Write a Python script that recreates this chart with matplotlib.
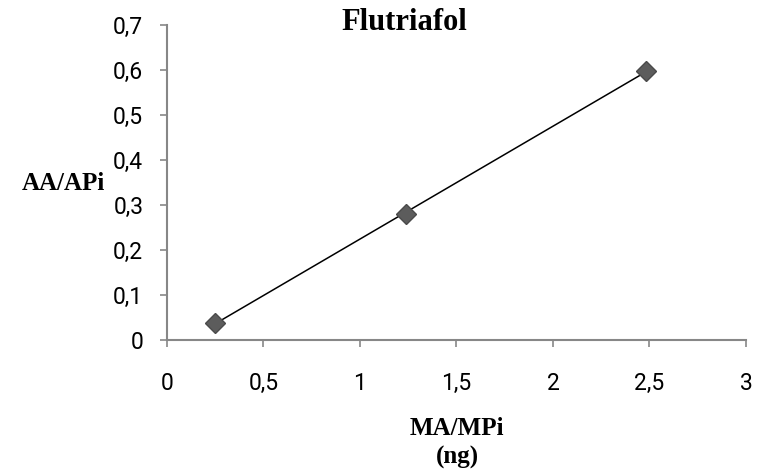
import numpy as np
import matplotlib.pyplot as plt

# datos de la curva de calibracion
ma_mpi = [0.25, 1.24, 2.48]
aa_api = [0.038, 0.281, 0.597]

x_ticks = [0, 0.5, 1, 1.5, 2, 2.5, 3]
y_ticks = [0, 0.1, 0.2, 0.3, 0.4, 0.5, 0.6, 0.7]

fig = plt.figure(figsize=(7.62, 4.76), dpi=100)
ax = fig.add_axes([0.219, 0.2857, 0.76, 0.6618])

# linea de tendencia
m, b = np.polyfit(ma_mpi, aa_api, 1)
xs = np.array([min(ma_mpi), max(ma_mpi)])
ax.plot(xs, m * xs + b, color='black', lw=1.1, zorder=2)

ax.plot(ma_mpi, aa_api, linestyle='none', marker='D', markersize=10,
        markerfacecolor='#5c5c5c', markeredgecolor='#4a4a4a', zorder=3)

ax.set_xlim(0, 3)
ax.set_ylim(0, 0.7)
ax.set_xticks(x_ticks)
ax.set_yticks(y_ticks)
fmt = lambda v: ('%g' % v).replace('.', ',')
ax.set_xticklabels([fmt(v) for v in x_ticks], fontfamily='Roboto', fontsize=16.5)
ax.set_yticklabels([fmt(v) for v in y_ticks], fontfamily='Roboto', fontsize=16.5)

for s in ['top', 'right']:
    ax.spines[s].set_visible(False)
for s in ['left', 'bottom']:
    ax.spines[s].set_color('#878787')
    ax.spines[s].set_linewidth(1.5)
ax.tick_params(axis='x', direction='out', length=5, width=1.2, color='#878787', pad=18)
ax.tick_params(axis='y', direction='out', length=5, width=1.2, color='#878787', pad=12)

fig.text(0.531, 0.953, 'Flutriafol', ha='center', va='center',
         fontfamily='Liberation Serif', fontweight='bold', fontsize=22)
fig.text(0.083, 0.615, 'AA/APi', ha='center', va='center',
         fontfamily='Liberation Serif', fontweight='bold', fontsize=18)
fig.text(0.6, 0.1, 'MA/MPi', ha='center', va='center',
         fontfamily='Liberation Serif', fontweight='bold', fontsize=18)
fig.text(0.6, 0.04, '(ng)', ha='center', va='center',
         fontfamily='Liberation Serif', fontweight='bold', fontsize=18)

fig.savefig('out.png', dpi=100)
